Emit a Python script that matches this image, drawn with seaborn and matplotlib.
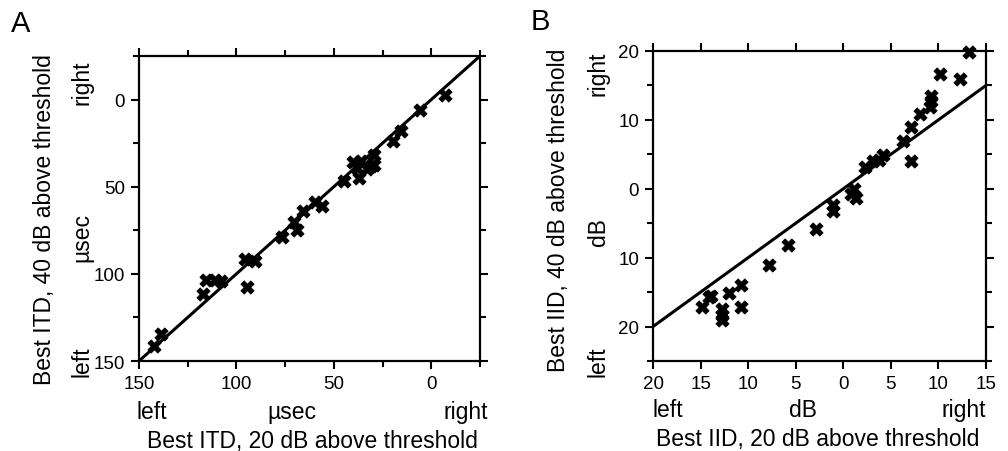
import numpy as np
import pandas as pd
import matplotlib
matplotlib.use("Agg")
import matplotlib.pyplot as plt
from matplotlib.ticker import MultipleLocator, FixedLocator
import seaborn as sns

# ---- Data -------------------------------------------------------------
# Panel A: best ITD (usec), positive = left, negative = right
itd_20db = [-7, 6, 15.6, 19.9, 29.4, 36.2, 31, 38, 37.1, 29.4, 33, 40,
            44.9, 59.5, 56, 65.6, 70.7, 69, 76.7, 95.7, 90.5, 94.8,
            115.5, 111.2, 107.8, 117.3, 142.2, 138.5]
itd_40db = [-2.5, 6.2, 18.1, 23.8, 31.6, 35.4, 38.3, 39.2, 45, 37.3, 40, 36,
            46.9, 58.5, 61, 63.9, 70, 74.8, 78.6, 91.2, 92.7, 107.5,
            103.7, 103.7, 104.3, 111.4, 141.2, 134.4]
# Panel B: best IID (dB), negative = left, positive = right
iid_20db = [13.2, 10.2, 12.3, 9.2, 9.2, 9.1, 8.1, 7.1, 6.3, 7.1, 4.2, 3.8,
            3.1, 2.3, 1.1, 0.8, 1.3, -1.1, -1.1, -2.9, -5.8, -7.8, -10.8,
            -12.0, -13.9, -14.8, -12.8, -12.8, -12.8, -10.8, -14.1]
iid_40db = [19.8, 16.7, 15.9, 13.5, 12.7, 11.9, 10.8, 9.0, 6.9, 4.1, 4.9, 4.2,
            4.0, 3.1, -0.1, -0.8, -1.4, -2.3, -3.2, -5.9, -8.1, -11.0, -13.9,
            -15.2, -15.6, -17.1, -17.4, -18.3, -19.0, -17.1, -15.7]

itd_ticks = [150, 100, 50, 0]
itd_ticklabels = ["150", "100", "50", "0"]
iid_xticks = [-20, -15, -10, -5, 0, 5, 10, 15]
iid_xticklabels = ["20", "15", "10", "5", "0", "5", "10", "15"]
iid_yticks = [-20, -10, 0, 10, 20]
iid_yticklabels = ["20", "10", "0", "10", "20"]

df_a = pd.DataFrame({"x": itd_20db, "y": itd_40db})
df_b = pd.DataFrame({"x": iid_20db, "y": iid_40db})

# ---- Style ------------------------------------------------------------
sns.set_theme(style="ticks")
plt.rcParams["font.family"] = ["Liberation Sans", "DejaVu Sans"]
plt.rcParams["axes.linewidth"] = 1.6

fig = plt.figure(figsize=(10.08, 4.52), dpi=100)
W, H = 1008, 452
def box(l, t, r, b):
    return [l / W, 1 - b / H, (r - l) / W, (b - t) / H]

axA = fig.add_axes(box(139, 57, 480, 362))
axB = fig.add_axes(box(653, 52, 986, 362))

mk = dict(marker="X", s=90, color="black", edgecolor="black", linewidth=0.6,
          zorder=3, clip_on=False)

for ax in (axA, axB):
    for sp in ax.spines.values():
        sp.set_visible(True)
        sp.set_color("black")
        sp.set_linewidth(1.6)
    ax.tick_params(which="both", direction="out", top=True, right=True,
                   labeltop=False, labelright=False, color="black",
                   width=1.5, labelsize=13.5, labelcolor="black")
    ax.tick_params(which="major", length=6, pad=4)
    ax.tick_params(which="minor", length=4)
    ax.set_facecolor("white")

# ---- Panel A ----------------------------------------------------------
sns.scatterplot(data=df_a, x="x", y="y", ax=axA, legend=False, **mk)
axA.axline((0, 0), slope=1, color="black", lw=2.2, zorder=2)
axA.set_xlim(150, -25)
axA.set_ylim(150, -25)
axA.xaxis.set_major_locator(FixedLocator(itd_ticks))
axA.set_xticklabels(itd_ticklabels)
axA.yaxis.set_major_locator(FixedLocator(itd_ticks))
axA.set_yticklabels(itd_ticklabels)
axA.xaxis.set_minor_locator(MultipleLocator(25))
axA.yaxis.set_minor_locator(MultipleLocator(25))
axA.set_xlabel("")
axA.set_ylabel("")

# ---- Panel B ----------------------------------------------------------
sns.scatterplot(data=df_b, x="x", y="y", ax=axB, legend=False, **mk)
axB.axline((0, 0), slope=1, color="black", lw=2.2, zorder=2)
axB.set_xlim(-20, 15)
axB.set_ylim(-25, 20)
axB.xaxis.set_major_locator(FixedLocator(iid_xticks))
axB.set_xticklabels(iid_xticklabels)
axB.yaxis.set_major_locator(FixedLocator(iid_yticks))
axB.set_yticklabels(iid_yticklabels)
axB.yaxis.set_minor_locator(MultipleLocator(5))
axB.set_xlabel("")
axB.set_ylabel("")

# ---- Text labels ------------------------------------------------------
fs = 16.5
def ft(x, y, s, **kw):
    fig.text(x / W, 1 - y / H, s, fontsize=kw.pop("fontsize", fs), color="black", **kw)

# Panel letters
ft(21, 24, "A", fontsize=21, ha="center", va="center")
ft(540, 22, "B", fontsize=21, ha="center", va="center")

# Panel A labels
ft(45, 220, "Best ITD, 40 dB above threshold", rotation=90, ha="center", va="center")
ft(82, 83, "right", rotation=90, ha="center", va="center")
ft(82, 237, "µsec", rotation=90, ha="center", va="center")
ft(82, 362, "left", rotation=90, ha="center", va="center")
ft(137, 413, "left", ha="left", va="center")
ft(292, 413, "µsec", ha="center", va="center")
ft(488, 413, "right", ha="right", va="center")
ft(312, 442, "Best ITD, 20 dB above threshold", ha="center", va="center")

# Panel B labels
ft(558, 210, "Best IID, 40 dB above threshold", rotation=90, ha="center", va="center")
ft(598, 74, "right", rotation=90, ha="center", va="center")
ft(598, 232, "dB", rotation=90, ha="center", va="center")
ft(598, 362, "left", rotation=90, ha="center", va="center")
ft(653, 411, "left", ha="left", va="center")
ft(803, 411, "dB", ha="center", va="center")
ft(986, 411, "right", ha="right", va="center")
ft(818, 440, "Best IID, 20 dB above threshold", ha="center", va="center")

fig.savefig("out.png", dpi=100, facecolor="white")
